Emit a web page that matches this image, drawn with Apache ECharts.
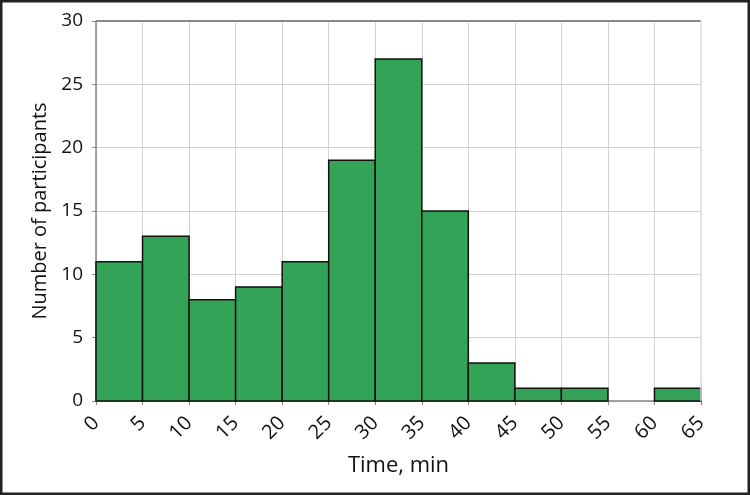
<!DOCTYPE html>
<html><head><meta charset="utf-8">
<script src="https://cdn.jsdelivr.net/npm/echarts@6/dist/echarts.min.js"></script>
<style>html,body{margin:0;padding:0;background:#fff}#c{width:750px;height:495px}</style>
</head><body><div id="c"></div>
<script>
var binStarts = [0, 5, 10, 15, 20, 25, 30, 35, 40, 45, 50, 55, 60];
var binWidth = 5;
var counts = [11, 13, 8, 9, 11, 19, 27, 15, 3, 1, 1, 0, 1];
var xTicks = [0, 5, 10, 15, 20, 25, 30, 35, 40, 45, 50, 55, 60, 65];
var yTicks = [0, 5, 10, 15, 20, 25, 30];

var data = binStarts.map(function (s, i) { return [s, s + binWidth, counts[i]]; });
var chart = echarts.init(document.getElementById('c'));
var font = '"Open Sans", "Noto Sans", sans-serif';
chart.setOption({
  animation: false,
  graphic: [{type: 'rect', shape: {x: 1.25, y: 1.25, width: 747.5, height: 492.5},
    style: {fill: 'none', stroke: '#222', lineWidth: 2.5}, z: 100}],
  grid: {left: 96, right: 49, top: 21, bottom: 94, show: true, borderColor: '#888', borderWidth: 0},
  xAxis: {
    type: 'value', min: xTicks[0], max: xTicks[xTicks.length - 1], interval: 5,
    name: 'Time, min', nameLocation: 'middle', nameGap: 54,
    nameTextStyle: {fontFamily: font, fontSize: 22, color: '#111'},
    axisLine: {show: true, onZero: false, lineStyle: {color: '#888', width: 1.5}},
    axisTick: {show: true, length: 4, lineStyle: {color: '#888'}},
    axisLabel: {rotate: 45, fontFamily: font, fontSize: 20, color: '#111', margin: 19},
    splitLine: {show: true, lineStyle: {color: '#d2d2d2', width: 1}}
  },
  yAxis: {
    type: 'value', min: 0, max: 30, interval: 5,
    name: 'Number of participants', nameLocation: 'middle', nameGap: 43,
    nameTextStyle: {fontFamily: font, fontSize: 20, color: '#111'},
    axisLine: {show: true, lineStyle: {color: '#888', width: 1.5}},
    axisTick: {show: true, length: 4, lineStyle: {color: '#888'}},
    axisLabel: {fontFamily: font, fontSize: 19, color: '#111', margin: 13},
    splitLine: {show: true, lineStyle: {color: '#d2d2d2', width: 1}}
  },
  series: [{
    type: 'custom',
    data: data,
    renderItem: function (params, api) {
      var x0 = api.value(0), x1 = api.value(1), v = api.value(2);
      if (v <= 0) return null;
      var p0 = api.coord([x0, v]);
      var p1 = api.coord([x1, 0]);
      return {type: 'rect', shape: {x: p0[0], y: p0[1], width: p1[0] - p0[0], height: p1[1] - p0[1]},
        style: {fill: '#33a457', stroke: '#111', lineWidth: 1.5}};
    },
    encode: {x: [0, 1], y: 2}
  }, {
    type: 'line', data: [[0, 30], [65, 30]], symbol: 'none', silent: true,
    lineStyle: {color: '#8a8a8a', width: 2}
  }, {
    type: 'line', data: [[65, 0], [65, 30]], symbol: 'none', silent: true,
    lineStyle: {color: '#e0e0e0', width: 1.5}
  }]
});
</script></body></html>
